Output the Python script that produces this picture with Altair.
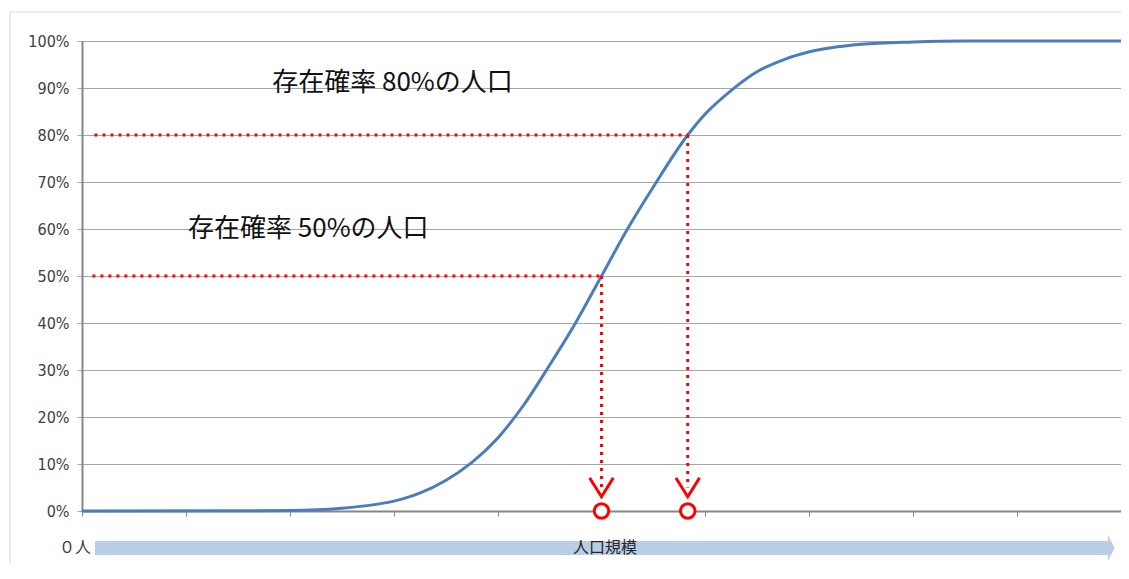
import altair as alt
import pandas as pd

# S-curve (x in axis units 0..10, y as probability)
curve_x = [0, 1.5, 2.0, 2.5, 2.8, 3.0, 3.25, 3.5, 3.75, 4.0, 4.25, 4.5, 4.75, 5.0,
           5.25, 5.5, 5.83, 6.0, 6.25, 6.5, 6.75, 7.0, 7.5, 8.0, 8.5, 10]
curve_y = [0, 0.0003, 0.001, 0.006, 0.013, 0.021, 0.038, 0.065, 0.103, 0.155, 0.225,
           0.31, 0.40, 0.50, 0.60, 0.69, 0.80, 0.845, 0.895, 0.935, 0.96, 0.977,
           0.993, 0.998, 1.0, 1.0]

# reference populations
ref_prob = [0.5, 0.8]
ref_pop = [5.0, 5.83]
ref_start = [0.1, 0.12]
arrow_tip = [0.05, 0.05]
chevron_y = [0.049, 0.049]

# annotations
note_text = ["存在確率 80%の人口", "存在確率 50%の人口"]
note_x = [1.83, 1.02]
note_y = [0.91, 0.60]

y_ticks = [i / 10 for i in range(11)]
x_ticks = list(range(11))

curve_df = pd.DataFrame({"x": curve_x, "y": curve_y})
ref_df = pd.DataFrame({"prob": ref_prob, "pop": ref_pop, "start": ref_start,
                       "tip": arrow_tip, "chev": chevron_y, "zero": [0, 0]})
note_df = pd.DataFrame({"t": note_text, "x": note_x, "y": note_y})
one = pd.DataFrame({"a": [0]})

W, H = 1039, 470
RED = "#ff0000"
xs = alt.Scale(domain=[0, 10], nice=False)
ys = alt.Scale(domain=[0, 1], nice=False)

x_axis = alt.Axis(values=x_ticks, labels=False, grid=False, title=None,
                  domainColor="#868686", domainWidth=2, tickColor="#868686",
                  tickSize=5, tickWidth=1)
y_axis = alt.Axis(values=y_ticks, format=".0%", grid=True, gridColor="#a6a6a6",
                  gridWidth=1, title=None, domainColor="#868686", domainWidth=2,
                  tickColor="#a6a6a6", tickSize=5, labelPadding=8,
                  labelFont="Liberation Sans Narrow, DejaVu Sans Condensed, sans-serif",
                  labelFontSize=16, labelColor="#404040")

curve = alt.Chart(curve_df).mark_line(color="#4a7ebb", strokeWidth=3,
                                      interpolate="monotone").encode(
    x=alt.X("x:Q", scale=xs, axis=x_axis),
    y=alt.Y("y:Q", scale=ys, axis=y_axis),
)

hrules = alt.Chart(ref_df).mark_rule(color=RED, strokeWidth=3, strokeDash=[3, 5]).encode(
    x=alt.X("start:Q", scale=xs), x2="pop:Q", y=alt.Y("prob:Q", scale=ys))
vrules = alt.Chart(ref_df).mark_rule(color=RED, strokeWidth=3, strokeDash=[3, 5]).encode(
    x=alt.X("pop:Q", scale=xs), y=alt.Y("prob:Q", scale=ys), y2="tip:Q")
chevrons = alt.Chart(ref_df).mark_point(
    shape="M-1,-0.8L0,0.8L1,-0.8", size=484, filled=False, color=RED,
    strokeWidth=3, opacity=1, strokeCap="square").encode(
    x=alt.X("pop:Q", scale=xs), y=alt.Y("chev:Q", scale=ys))
circles = alt.Chart(ref_df).mark_point(
    shape="circle", size=210, filled=True, fill="white", stroke=RED,
    strokeWidth=3, opacity=1).encode(
    x=alt.X("pop:Q", scale=xs), y=alt.Y("zero:Q", scale=ys))

notes = alt.Chart(note_df).mark_text(
    align="left", baseline="middle", font="Noto Sans CJK JP", fontSize=26,
    color="#111111").encode(
    x=alt.X("x:Q", scale=xs), y=alt.Y("y:Q", scale=ys), text="t:N")

# decorations: outer border, bottom arrow and its labels
border_left = alt.Chart(one).mark_rule(color="#d9d9d9", strokeWidth=1).encode(
    x=alt.value(-72), y=alt.value(-29), y2=alt.value(700))
border_top = alt.Chart(one).mark_rule(color="#d9d9d9", strokeWidth=1).encode(
    x=alt.value(-72), x2=alt.value(1100), y=alt.value(-29))
band = alt.Chart(one).mark_rect(color="#b9cde5").encode(
    x=alt.value(13), x2=alt.value(W - 13), y=alt.value(500), y2=alt.value(514))
head = alt.Chart(one).mark_point(
    shape="M0,-1L0.5,0L0,1Z", size=676, filled=True, color="#b9cde5",
    opacity=1).encode(x=alt.value(W - 13), y=alt.value(507))
zero_lbl = alt.Chart(one).mark_text(
    text="０人", align="right", baseline="middle", font="Noto Sans CJK JP",
    fontSize=16, color="#404040").encode(x=alt.value(9), y=alt.value(507))
axis_lbl = alt.Chart(one).mark_text(
    text="人口規模", align="center", baseline="middle", font="Noto Sans CJK JP",
    fontSize=16, color="#262626").encode(x=alt.value(523), y=alt.value(507))

chart = alt.layer(
    border_left, border_top, band, head, zero_lbl, axis_lbl,
    curve, hrules, vrules, chevrons, circles, notes
).properties(
    width=W, height=H,
    padding={"left": 74, "top": 33, "right": 0, "bottom": 52},
    autosize=alt.AutoSizeParams(type="none"),
).configure_view(stroke=None).configure(background="white")

chart.save("out.html", embed_options={"renderer": "svg", "actions": False})
